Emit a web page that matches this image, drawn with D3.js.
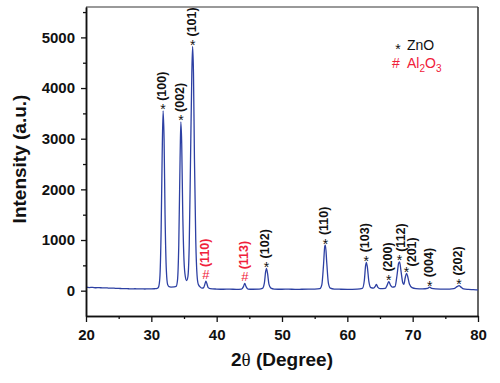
<!DOCTYPE html>
<html>
<head>
<meta charset="utf-8">
<script src="https://cdn.jsdelivr.net/npm/d3@7"></script>
<style>
  body { margin: 0; background: #fff; }
  svg { display: block; font-family: "Liberation Sans", Arial, sans-serif; }
</style>
</head>
<body>
<div id="container"></div>
<script>
// XRD pattern of ZnO / Al2O3

//_____ DATA _____
const twoTheta = [
  20.0, 20.5, 21.0, 21.5, 22.0, 22.5, 23.0, 23.5, 24.0, 24.5, 25.0, 25.5, 26.0, 26.5, 27.0, 27.5,
  28.0, 28.5, 29.0, 29.5, 30.0, 30.5, 30.9, 31.1, 31.3, 31.5, 31.65, 31.8, 31.95, 32.1, 32.3, 32.5,
  32.7, 33.0, 33.5, 33.8, 34.0, 34.2, 34.4, 34.52, 34.65, 34.8, 35.0, 35.2, 35.4, 35.6, 35.8, 36.0,
  36.2, 36.32, 36.45, 36.6, 36.8, 37.0, 37.2, 37.5, 37.8, 38.0, 38.2, 38.35, 38.5, 38.7, 39.0, 40.0,
  41.0, 42.0, 43.0, 43.8, 44.1, 44.3, 44.5, 44.8, 45.5, 46.5, 47.0, 47.3, 47.5, 47.62, 47.8, 48.0,
  48.3, 48.8, 50.0, 51.0, 52.0, 53.0, 54.0, 55.0, 55.8, 56.1, 56.35, 56.55, 56.65, 56.85, 57.1, 57.4,
  58.0, 59.0, 60.0, 61.5, 62.3, 62.6, 62.8, 62.9, 63.05, 63.3, 63.6, 64.0, 64.3, 64.45, 64.65, 65.0,
  65.8, 66.1, 66.35, 66.6, 66.9, 67.3, 67.6, 67.85, 68.0, 68.2, 68.5, 68.65, 68.85, 69.05, 69.2, 69.5,
  69.9, 70.5, 71.5, 72.3, 72.6, 72.9, 73.5, 75.0, 76.3, 76.8, 77.1, 77.4, 77.8, 78.5, 79.3, 80.0
];
const intensity = [
  68, 62, 66, 58, 60, 55, 57, 50, 52, 46, 44, 42, 40, 38, 36, 38,
  34, 36, 33, 36, 35, 38, 45, 70, 250, 1200, 2600, 3550, 3000, 1500, 400, 120,
  80, 72, 75, 85, 200, 900, 2600, 3330, 2900, 1600, 600, 280, 200, 280, 900, 2600,
  4300, 4820, 4300, 2600, 1000, 300, 120, 70, 50, 60, 130, 190, 140, 60, 40, 32,
  28, 30, 26, 30, 80, 145, 80, 32, 28, 30, 45, 150, 380, 440, 330, 130,
  50, 32, 28, 30, 26, 28, 30, 32, 40, 120, 500, 880, 900, 550, 150, 50,
  32, 28, 26, 30, 45, 200, 500, 560, 480, 180, 60, 50, 90, 125, 70, 40,
  45, 110, 180, 110, 70, 80, 300, 540, 570, 400, 150, 125, 250, 340, 300, 130,
  60, 40, 35, 45, 70, 45, 35, 30, 40, 80, 100, 70, 35, 25, 20, 15
];

//>>> Indexed reflections
const peakLabels = [ '(100)', '(002)', '(101)', '(110)', '(113)', '(102)', '(110)', '(103)', '(200)', '(112)', '(201)', '(004)', '(202)' ];
const peakPhases = [ 'ZnO', 'ZnO', 'ZnO', 'Al2O3', 'Al2O3', 'ZnO', 'ZnO', 'ZnO', 'ZnO', 'ZnO', 'ZnO', 'ZnO', 'ZnO' ];
const peakAngles = [ 31.8, 34.52, 36.32, 38.35, 44.3, 47.62, 56.65, 62.9, 66.35, 68.0, 69.05, 72.6, 77.1 ];
const peakHeights = [ 3550, 3330, 4820, 190, 145, 440, 900, 560, 180, 570, 340, 70, 100 ];

//>>> Axis ticks
const xTicks = [ 20, 30, 40, 50, 60, 70, 80 ];
const xMinorTicks = [ 25, 35, 45, 55, 65, 75 ];
const yTicks = [ 0, 1000, 2000, 3000, 4000, 5000 ];
const yMinorTicks = [ 500, 1500, 2500, 3500, 4500, 5500 ];


//_____ LAYOUT _____
const W = 500, H = 383;
const plot = { left: 86, right: 478, top: 7, bottom: 316 };
const lineColor = '#2d40a3';
const red = '#f0203a';

const svg = d3.select( '#container' ).append( 'svg' )
  .attr( 'width', W )
  .attr( 'height', H );

//_____ SCALES _____
const x = d3.scaleLinear().domain( [ 20, 80 ] ).range( [ plot.left, plot.right ] );
const y = d3.scaleLinear().domain( [ -500, 5600 ] ).range( [ plot.bottom, plot.top ] );

//_____ FRAME (top + right) _____
svg.append( 'line' )
  .attr( 'x1', plot.left ).attr( 'x2', plot.right )
  .attr( 'y1', plot.top ).attr( 'y2', plot.top )
  .attr( 'stroke', '#777' ).attr( 'stroke-width', 1.5 );
svg.append( 'line' )
  .attr( 'x1', plot.right ).attr( 'x2', plot.right )
  .attr( 'y1', plot.top ).attr( 'y2', plot.bottom )
  .attr( 'stroke', '#333' ).attr( 'stroke-width', 1.5 );

//_____ PATTERN _____
const pts = twoTheta.map( ( t, i ) => [ t, intensity[ i ] ] );
svg.append( 'path' )
  .datum( pts )
  .attr( 'fill', 'none' )
  .attr( 'stroke', lineColor )
  .attr( 'stroke-width', 1.3 )
  .attr( 'stroke-linejoin', 'round' )
  .attr( 'd', d3.line().x( d => x( d[ 0 ] ) ).y( d => y( d[ 1 ] ) ).curve( d3.curveMonotoneX ) );

//_____ AXES _____
function styleAxis ( g ) {
  g.select( '.domain' ).attr( 'stroke', '#111' ).attr( 'stroke-width', 1.5 );
  g.selectAll( '.tick line' ).attr( 'stroke', '#111' ).attr( 'stroke-width', 1.3 );
  g.selectAll( '.tick text' )
    .attr( 'fill', '#111' )
    .style( 'font-size', '15px' )
    .style( 'font-weight', 'bold' );
}

svg.append( 'g' )
  .attr( 'transform', `translate(0,${plot.bottom})` )
  .call( d3.axisBottom( x ).tickValues( xMinorTicks ).tickSize( 3 ).tickFormat( '' ).tickSizeOuter( 0 ) )
  .call( styleAxis );
svg.append( 'g' )
  .attr( 'id', 'x-axis' )
  .attr( 'transform', `translate(0,${plot.bottom})` )
  .call( d3.axisBottom( x ).tickValues( xTicks ).tickFormat( d3.format( 'd' ) ).tickSize( 6 ).tickPadding( 7 ).tickSizeOuter( 0 ) )
  .call( styleAxis );

svg.append( 'g' )
  .attr( 'transform', `translate(${plot.left},0)` )
  .call( d3.axisLeft( y ).tickValues( yMinorTicks ).tickSize( 3 ).tickFormat( '' ).tickSizeOuter( 0 ) )
  .call( styleAxis );
svg.append( 'g' )
  .attr( 'id', 'y-axis' )
  .attr( 'transform', `translate(${plot.left},0)` )
  .call( d3.axisLeft( y ).tickValues( yTicks ).tickFormat( d3.format( 'd' ) ).tickSize( 5 ).tickPadding( 6 ).tickSizeOuter( 0 ) )
  .call( styleAxis );

//_____ AXIS TITLES _____
svg.append( 'text' )
  .attr( 'transform', `translate(26,${159}) rotate(-90)` )
  .attr( 'text-anchor', 'middle' )
  .style( 'font-size', '19px' )
  .style( 'font-weight', 'bold' )
  .attr( 'fill', '#111' )
  .text( 'Intensity (a.u.)' );

const xTitle = svg.append( 'text' )
  .attr( 'x', ( plot.left + plot.right ) / 2 )
  .attr( 'y', 366 )
  .attr( 'text-anchor', 'middle' )
  .style( 'font-size', '19px' )
  .style( 'font-weight', 'bold' )
  .attr( 'fill', '#111' );
xTitle.append( 'tspan' ).text( '2' );
xTitle.append( 'tspan' )
  .style( 'font-family', '"Liberation Serif", "Times New Roman", serif' )
  .style( 'font-weight', 'normal' )
  .text( 'θ' );
xTitle.append( 'tspan' ).text( ' (Degree)' );

//_____ PEAK LABELS _____
//>>> small nudges where labels would collide
const nudgeX = { 9: 2.5, 10: 7 };
const nudgeY = { 10: 3 };

peakLabels.forEach( ( label, i ) => {
  const px = x( peakAngles[ i ] );
  const py = y( peakHeights[ i ] );
  const isZnO = peakPhases[ i ] === 'ZnO';
  const color = isZnO ? '#111' : red;

  //>>> marker glyph (upright)
  svg.append( 'text' )
    .attr( 'x', px )
    .attr( 'y', isZnO ? py + 3.5 : py - 2 )
    .attr( 'text-anchor', 'middle' )
    .style( 'font-size', isZnO ? '14px' : '13px' )
    .attr( 'fill', color )
    .text( isZnO ? '*' : '#' );

  //>>> rotated Miller index
  const start = isZnO ? py - 10 : py - 14;
  svg.append( 'text' )
    .attr( 'transform', `translate(${px - 1.5 + ( nudgeX[ i ] || 0 )},${start + ( nudgeY[ i ] || 0 )}) rotate(-90)` )
    .attr( 'dy', '0.36em' )
    .style( 'font-size', '12.5px' )
    .style( 'font-weight', 'bold' )
    .attr( 'fill', color )
    .text( label );
} );

//_____ LEGEND _____
const legend = svg.append( 'g' ).attr( 'transform', 'translate(398,50)' );
legend.append( 'text' )
  .attr( 'x', 0 ).attr( 'y', 3.5 )
  .attr( 'text-anchor', 'middle' )
  .style( 'font-size', '14px' )
  .attr( 'fill', '#111' )
  .text( '*' );
legend.append( 'text' )
  .attr( 'x', 9 ).attr( 'y', 0 )
  .style( 'font-size', '14px' )
  .attr( 'fill', '#111' )
  .text( 'ZnO' );

legend.append( 'text' )
  .attr( 'x', -2 ).attr( 'y', 18 )
  .attr( 'text-anchor', 'middle' )
  .style( 'font-size', '14px' )
  .attr( 'fill', red )
  .text( '#' );
const al = legend.append( 'text' )
  .attr( 'x', 9 ).attr( 'y', 18 )
  .style( 'font-size', '14px' )
  .attr( 'fill', red );
al.append( 'tspan' ).text( 'Al' );
al.append( 'tspan' ).attr( 'dy', 4 ).style( 'font-size', '10px' ).text( '2' );
al.append( 'tspan' ).attr( 'dy', -4 ).text( 'O' );
al.append( 'tspan' ).attr( 'dy', 4 ).style( 'font-size', '10px' ).text( '3' );
</script>
</body>
</html>
